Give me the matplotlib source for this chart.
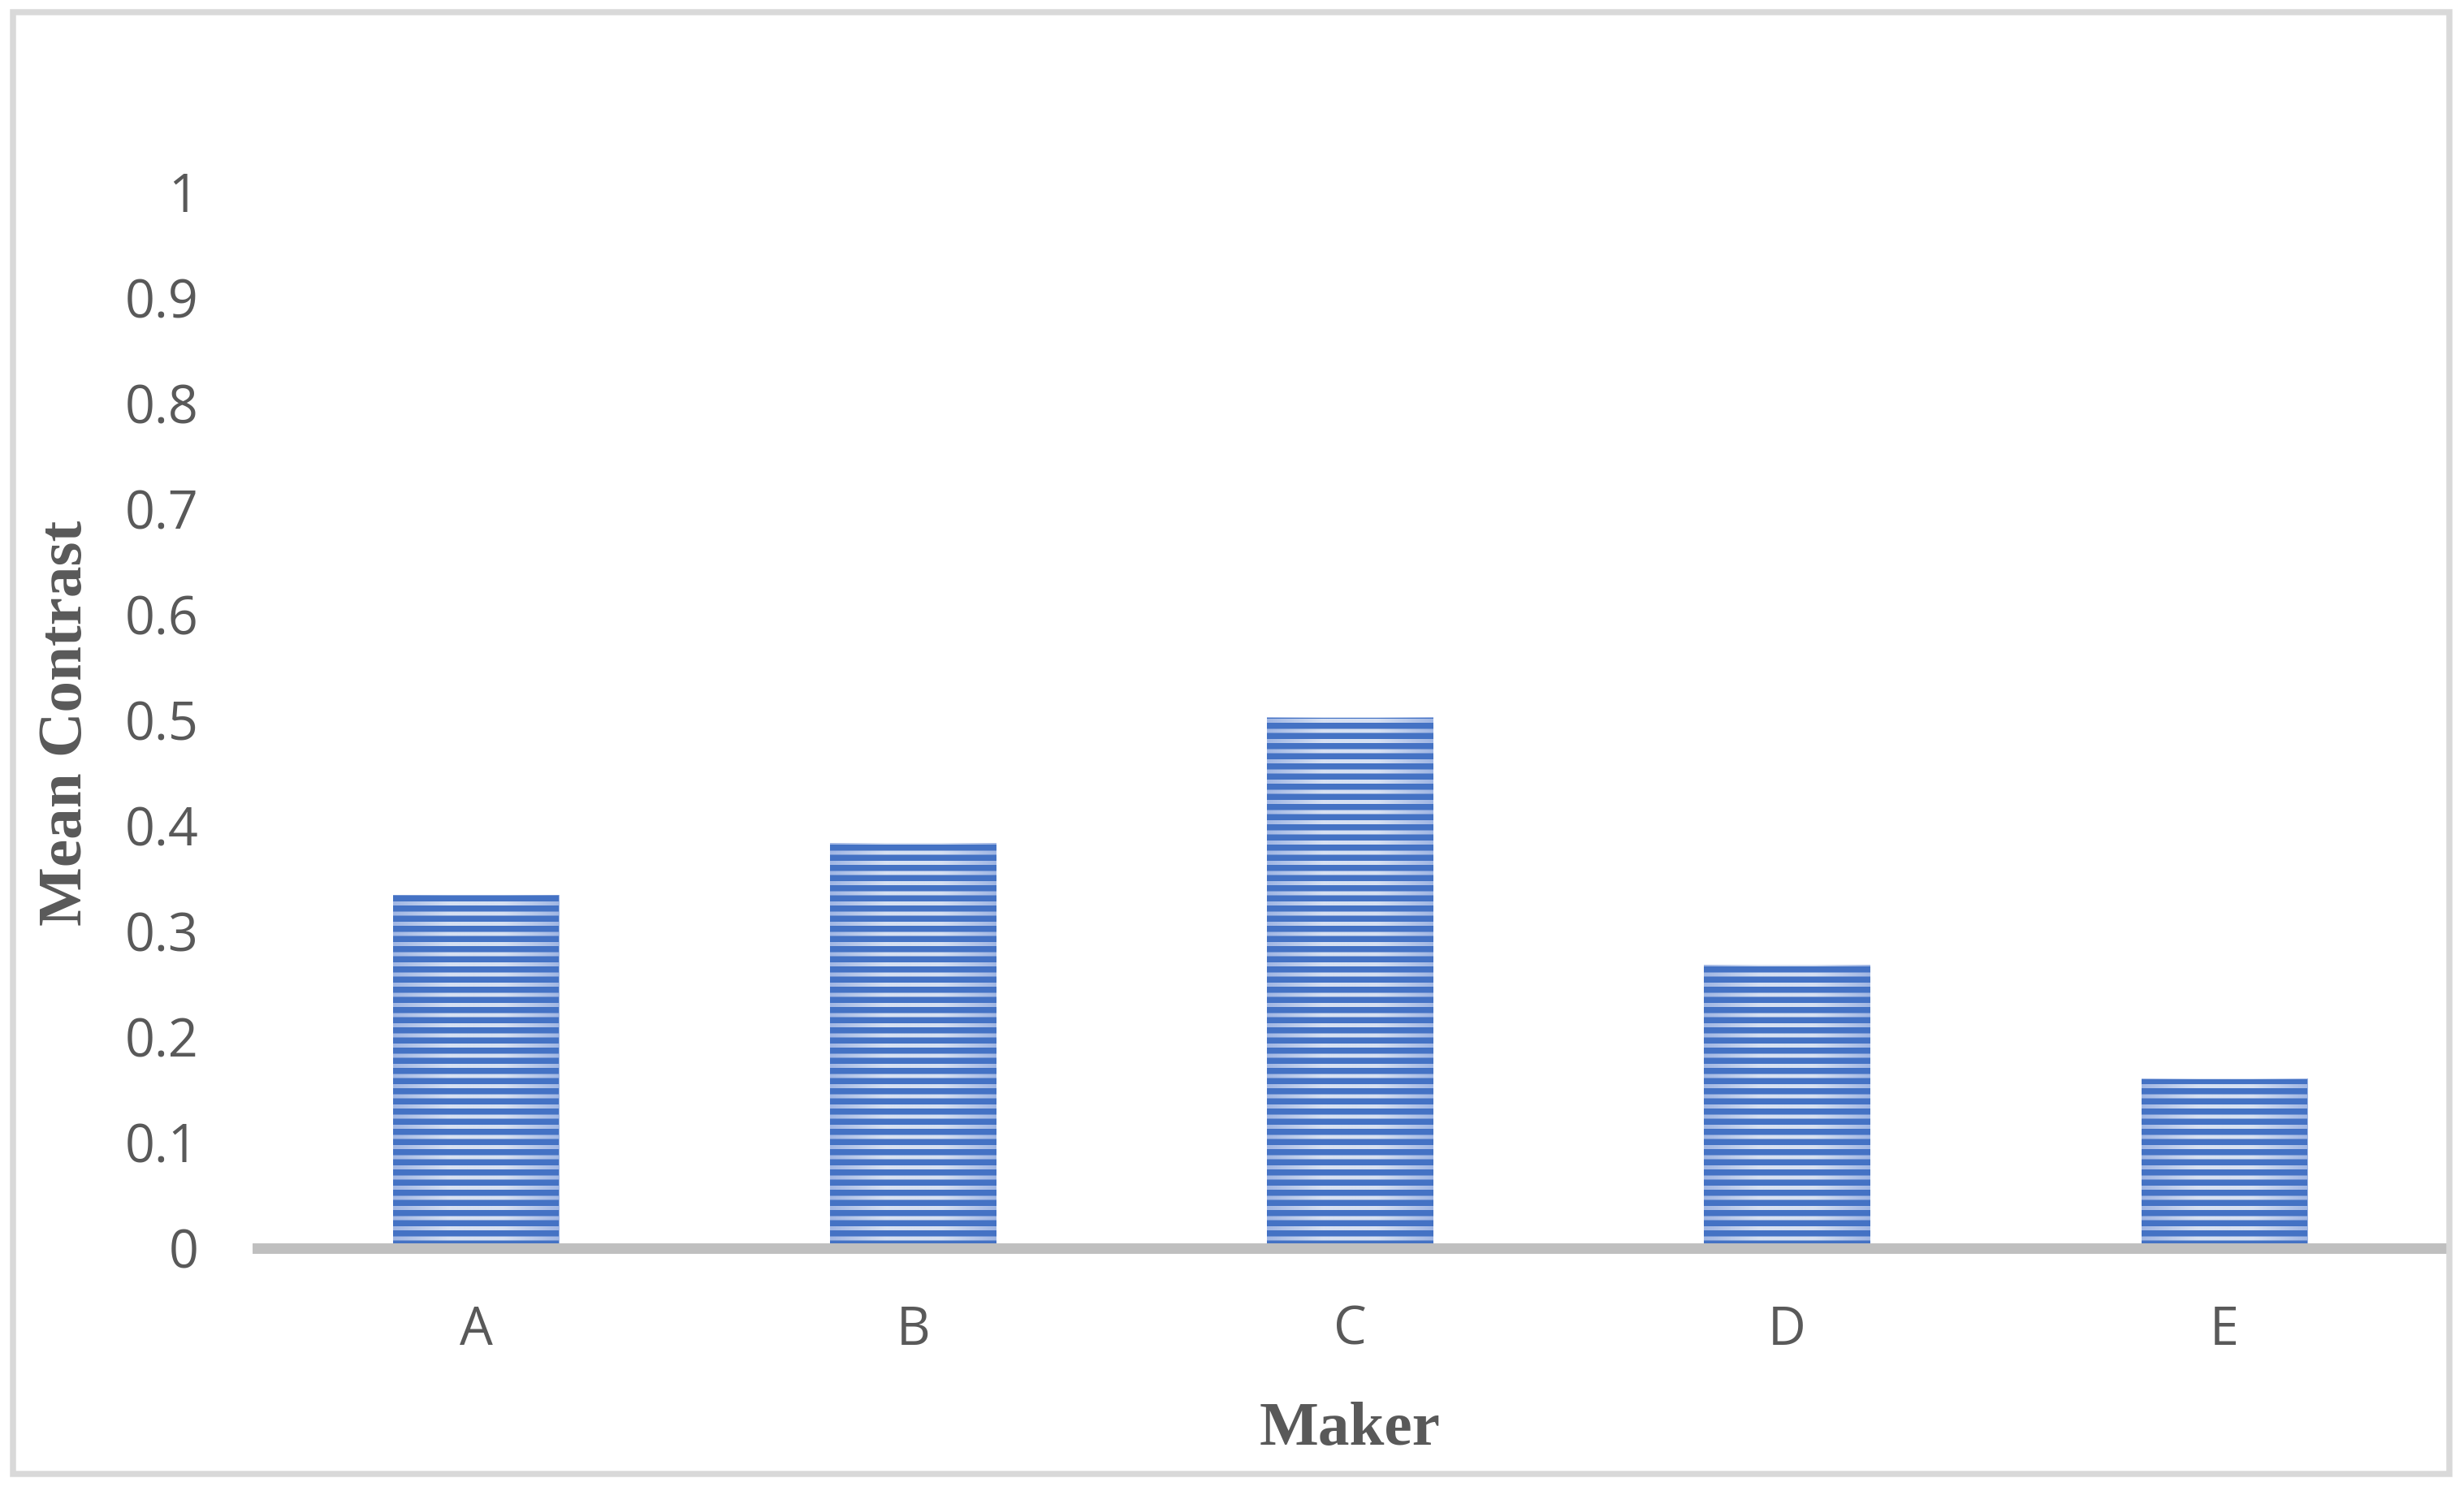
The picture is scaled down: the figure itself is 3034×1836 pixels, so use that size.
import numpy as np
import matplotlib
matplotlib.use("Agg")
import matplotlib.pyplot as plt
from matplotlib.colors import LinearSegmentedColormap
from matplotlib.patches import Rectangle

makers = ["A", "B", "C", "D", "E"]
mean_contrast = [0.334, 0.383, 0.502, 0.268, 0.160]
y_ticks = [0, 0.1, 0.2, 0.3, 0.4, 0.5, 0.6, 0.7, 0.8, 0.9, 1]
y_tick_labels = ["0", "0.1", "0.2", "0.3", "0.4", "0.5", "0.6", "0.7", "0.8", "0.9", "1"]

text_col = "#595959"
stripe_col = "#4472c4"
plt.rcParams["hatch.linewidth"] = 3.6
plt.rcParams["font.family"] = ["Open Sans", "DejaVu Sans"]

fig = plt.figure(figsize=(3034 / 150, 1836 / 150), dpi=150)
ax = fig.add_axes([0.1045, 0.1629, 0.8869, 0.7794])

x = np.arange(len(makers))
bars = ax.bar(x, mean_contrast, width=0.38, facecolor="none",
              edgecolor=stripe_col, hatch="--", linewidth=0, zorder=3)

# soft light-blue gradient behind the stripes
cmap = LinearSegmentedColormap.from_list("bg", ["#a0b6e4", "#d6e0f2", "#d6e0f2", "#a0b6e4"])
grad = np.linspace(0, 1, 256).reshape(1, -1)
for b in bars:
    ax.imshow(grad, cmap=cmap, aspect="auto", zorder=2,
              extent=[b.get_x(), b.get_x() + b.get_width(), 0, b.get_height()])

ax.set_xlim(-0.5, 4.5)
ax.set_ylim(0, 1.1)
ax.set_xticks(x)
ax.set_xticklabels(makers)
ax.set_yticks(y_ticks)
ax.set_yticklabels(y_tick_labels)
ax.tick_params(axis="both", length=0, labelsize=31, labelcolor=text_col)
ax.tick_params(axis="y", pad=35)
ax.tick_params(axis="x", pad=33)

for s in ["top", "right", "left"]:
    ax.spines[s].set_visible(False)
ax.spines["bottom"].set_color("#bfbfbf")
ax.spines["bottom"].set_linewidth(6.2)
ax.spines["bottom"].set_zorder(4)

ax.set_xlabel("Maker", family="Liberation Serif", fontweight="bold",
              fontsize=37, color=text_col)
ax.set_ylabel("Mean Contrast", family="Liberation Serif", fontweight="bold",
              fontsize=37, color=text_col)
ax.xaxis.label.set_va("center")
ax.yaxis.label.set_va("center")
ax.xaxis.set_label_coords(0.5, -0.156)
ax.yaxis.set_label_coords(-0.0877, 0.452)

# outer frame
fig.patches.append(Rectangle((16 / 3034, 21.5 / 1836), 3000 / 3034, 1800 / 1836,
                             transform=fig.transFigure, fill=False,
                             edgecolor="#d9d9d9", linewidth=3.6))

fig.savefig("out.png", dpi=150)
